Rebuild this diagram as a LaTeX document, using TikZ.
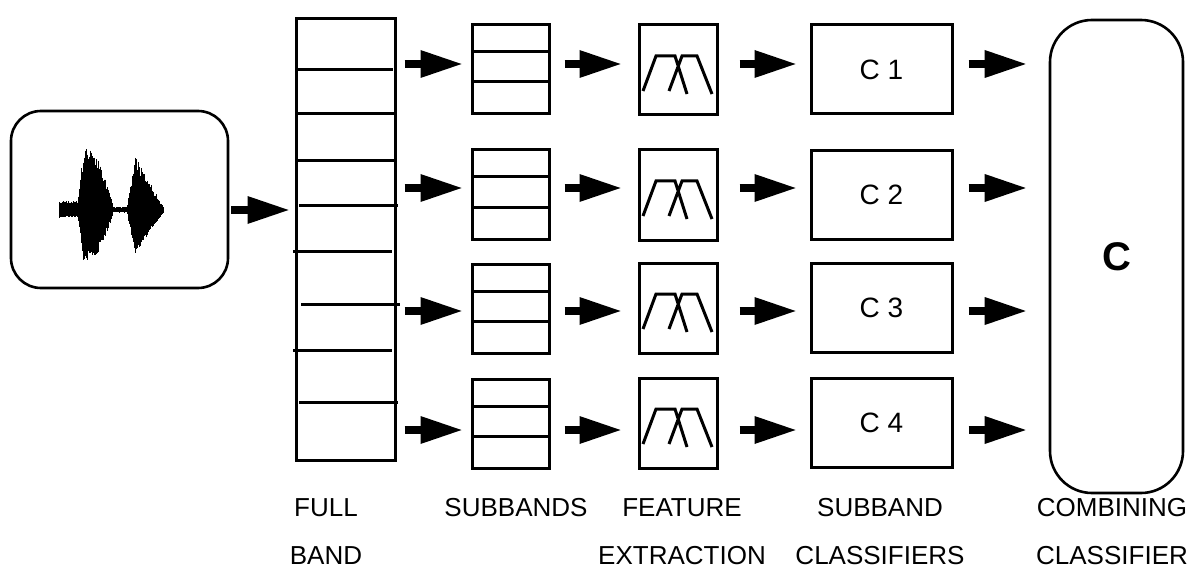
\documentclass[tikz,border=0pt]{standalone}
\usepackage{fontspec}
\setmainfont{Liberation Sans}
\usetikzlibrary{arrows.meta, positioning}

\begin{document}
\begin{tikzpicture}[
  x=1pt, y=-1pt,
  box/.style 2 args={
    rectangle, draw=black, line width=3pt, inner sep=0pt,
    minimum width=#1, minimum height=#2,
  },
  % path picture origin sits at the node centre
  subbands/.style={
    box={77pt}{89pt},
    path picture={
      \draw[line width=3pt] (-39,-17.5) -- (39,-17.5) (-39,12.5) -- (39,12.5);
    },
  },
  filterbank/.style={
    box={78pt}{90pt},
    path picture={
      \draw[line width=3pt]
        (-35,21) -- (-22,-14) -- (-3,-14) -- (9,24)
        (-9,21) -- (4,-14) -- (19,-14) -- (34,24);
    },
  },
  classifier/.style={box={141pt}{89pt}, font=\fontsize{28}{34}\selectfont},
  arr/.style={line width=7.5pt, -{Triangle[length=41pt, width=28pt, line width=0pt]}},
  caption/.style={font=\fontsize{26}{48}\selectfont, align=center, anchor=base, inner sep=0pt},
]
  \useasboundingbox (0,0) rectangle (1193,572);

  % arrow heights of the four rows
  \coordinate (in) at (0,210);
  \coordinate (row1) at (0,64);
  \coordinate (row2) at (0,188);
  \coordinate (row3) at (0,311);
  \coordinate (row4) at (0,430);

  % Speech input
  \node[box={217pt}{177pt}, line width=2.6pt, rounded corners=30pt] (wave) at (119.5,199.5) {};
  \pgfmathsetseed{11}
  \foreach \x in {59,59.6,...,164}{
    \pgfmathsetmacro\tb{(\x-84)/29}
    \pgfmathsetmacro\env{\x<78 ? 9 : (\x<84 ? 9+(\x-78)*9.5 : (\x<113 ? 5+58*(1-\tb*\tb) : (\x<127 ? 3 : (\x<135 ? 3+(\x-127)*6.4 : 2+52*(164-\x)/29))))}
    \pgfmathsetmacro\up{\env*(0.75+0.25*rnd)}
    \pgfmathsetmacro\dn{0.85*\env*(0.75+0.25*rnd)}
    \draw[line width=0.9pt] (\x,210-\up) -- (\x,210+\dn);
  }

  % Full band
  \node[box={99pt}{441pt}] (fullband) at (345.5,239.5) {};
  \foreach \y/\a/\b in {70/296/393, 114/296/395, 161/298/397, 205/299/398,
                        251/293/392, 304/301/400, 350/293/392, 402/299/398}
    \draw[line width=3pt] (\a,\y) -- (\b,\y);

  % Subbands
  \node[subbands] (sub1) at (510.5,69.5) {};
  \node[subbands] (sub2) at (510.5,194.5) {};
  \node[subbands] (sub3) at (510.5,308.5) {};
  \node[subbands] (sub4) at (510.5,423.5) {};

  % Feature extraction
  \node[filterbank] (feat1) at (678,70) {};
  \node[filterbank] (feat2) at (678,195) {};
  \node[filterbank] (feat3) at (678,308) {};
  \node[filterbank] (feat4) at (678,423) {};

  % Subband classifiers
  \node[classifier] (cls1) at (881.5,69.5) {C 1};
  \node[classifier] (cls2) at (881.5,195) {C 2};
  \node[classifier] (cls3) at (881.5,308) {C 3};
  \node[classifier] (cls4) at (881.5,423) {C 4};

  % Combining classifier
  \node[box={133pt}{473pt}, line width=2.6pt, rounded corners=42pt,
        font=\fontsize{40}{48}\selectfont\bfseries] (comb) at (1116.5,256.5) {C};

  % Arrows
  \draw[arr, shorten <=2pt, shorten >=6pt] (wave.east |- in) -- (fullband.west |- in);

  \draw[arr, shorten <=8pt, shorten >=9pt] (fullband.east |- row1) -- (sub1.west |- row1);
  \draw[arr, shorten <=8pt, shorten >=9pt] (fullband.east |- row2) -- (sub2.west |- row2);
  \draw[arr, shorten <=8pt, shorten >=9pt] (fullband.east |- row3) -- (sub3.west |- row3);
  \draw[arr, shorten <=8pt, shorten >=9pt] (fullband.east |- row4) -- (sub4.west |- row4);

  \draw[arr, shorten <=14pt, shorten >=17pt] (sub1.east |- row1) -- (feat1.west |- row1);
  \draw[arr, shorten <=14pt, shorten >=17pt] (sub2.east |- row2) -- (feat2.west |- row2);
  \draw[arr, shorten <=14pt, shorten >=17pt] (sub3.east |- row3) -- (feat3.west |- row3);
  \draw[arr, shorten <=14pt, shorten >=17pt] (sub4.east |- row4) -- (feat4.west |- row4);

  \draw[arr, shorten <=21pt, shorten >=14pt] (feat1.east |- row1) -- (cls1.west |- row1);
  \draw[arr, shorten <=21pt, shorten >=14pt] (feat2.east |- row2) -- (cls2.west |- row2);
  \draw[arr, shorten <=21pt, shorten >=14pt] (feat3.east |- row3) -- (cls3.west |- row3);
  \draw[arr, shorten <=21pt, shorten >=14pt] (feat4.east |- row4) -- (cls4.west |- row4);

  \draw[arr, shorten <=15pt, shorten >=23pt] (cls1.east |- row1) -- (comb.west |- row1);
  \draw[arr, shorten <=15pt, shorten >=23pt] (cls2.east |- row2) -- (comb.west |- row2);
  \draw[arr, shorten <=15pt, shorten >=23pt] (cls3.east |- row3) -- (comb.west |- row3);
  \draw[arr, shorten <=15pt, shorten >=23pt] (cls4.east |- row4) -- (comb.west |- row4);

  % Stage captions (base sits on the last line)
  \node[caption] (capfull) at (326,564) {FULL\\BAND};
  \node[caption] (capsub) at (516,516) {SUBBANDS};
  \node[caption] (capfeat) at (682,564) {FEATURE\\EXTRACTION};
  \node[caption] (capcls) at (880,564) {SUBBAND\\CLASSIFIERS};
  \node[caption] (capcomb) at (1112,564) {COMBINING\\CLASSIFIER};

\end{tikzpicture}
\end{document}
